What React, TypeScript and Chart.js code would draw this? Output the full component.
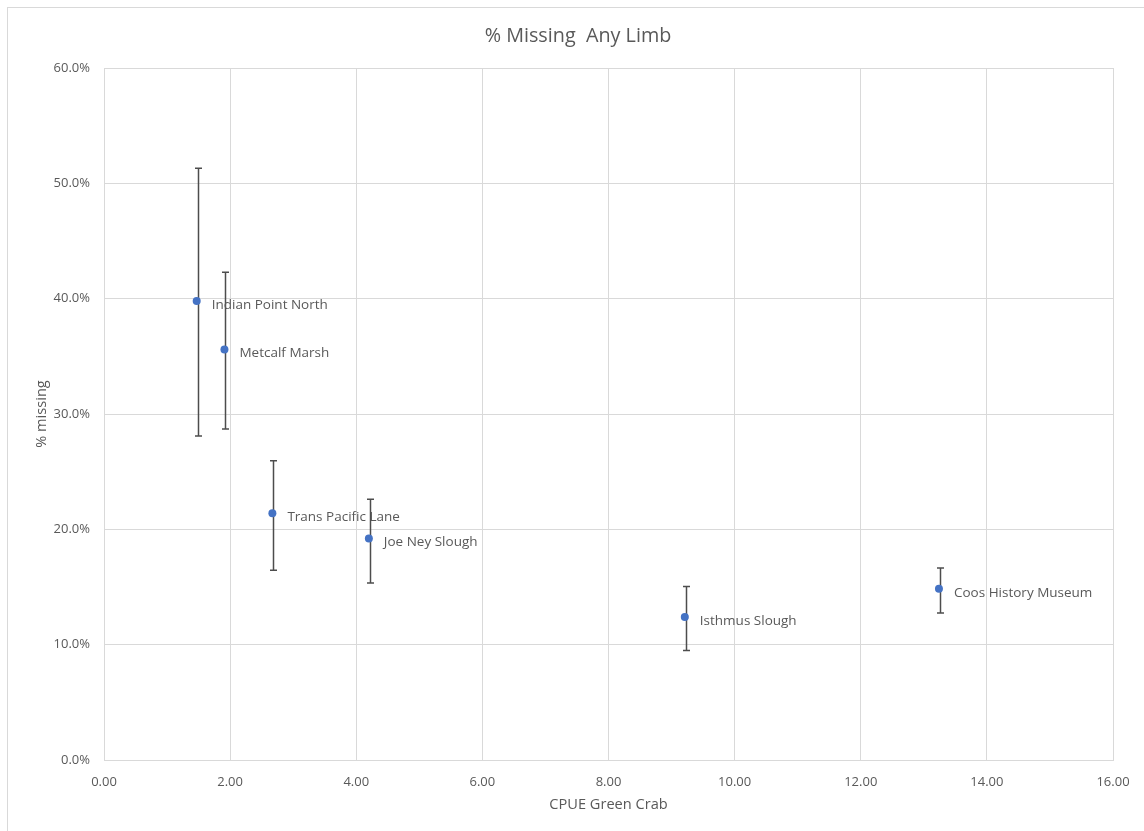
import React, { useEffect, useRef } from "react";
import { Chart, registerables } from "chart.js";

Chart.register(...registerables);

const sites = [
  "Indian Point North",
  "Metcalf Marsh",
  "Trans Pacific Lane",
  "Joe Ney Slough",
  "Isthmus Slough",
  "Coos History Museum",
];
const cpue = [1.47, 1.91, 2.67, 4.2, 9.21, 13.24];
const pctMissing = [39.8, 35.6, 21.4, 19.2, 12.4, 14.85];
const errUpper = [51.3, 42.3, 25.95, 22.6, 15.05, 16.65];
const errLower = [28.1, 28.7, 16.45, 15.35, 9.5, 12.75];

const chartTitle = "% Missing  Any Limb";
const xTitle = "CPUE Green Crab";
const yTitle = "% missing";

const FONT = "'Open Sans', Lato, sans-serif";
const TEXT = "#595959";

const W = 1137;
const H = 824;

const decorPlugin = {
  id: "decor",
  beforeDraw(chart: any) {
    const ctx = chart.ctx;
    ctx.save();
    ctx.fillStyle = "#ffffff";
    ctx.fillRect(0, 0, chart.width, chart.height);
    ctx.strokeStyle = "#d9d9d9";
    ctx.lineWidth = 1;
    ctx.strokeRect(0.5, 0.5, chart.width + 10, chart.height + 10);
    ctx.restore();
  },
  afterDraw(chart: any) {
    const ctx = chart.ctx;
    const area = chart.chartArea;
    ctx.save();
    ctx.fillStyle = TEXT;
    ctx.textAlign = "center";
    ctx.textBaseline = "middle";
    ctx.font = `19.8px ${FONT}`;
    ctx.fillText(chartTitle, 571, 29.5);
    ctx.font = `14.6px ${FONT}`;
    ctx.fillText(xTitle, (area.left + area.right) / 2, 798);
    ctx.translate(35, (area.top + area.bottom) / 2);
    ctx.rotate(-Math.PI / 2);
    ctx.fillText(yTitle, 0, 0);
    ctx.restore();
  },
};

const errorBarPlugin = {
  id: "errorBars",
  beforeDatasetsDraw(chart: any) {
    const ctx = chart.ctx;
    const xs = chart.scales.x;
    const ys = chart.scales.y;
    ctx.save();
    ctx.strokeStyle = "#4d4d4d";
    ctx.lineWidth = 1.5;
    for (let i = 0; i < cpue.length; i++) {
      const x = Math.round(xs.getPixelForValue(cpue[i])) + 1.5;
      const yTop = ys.getPixelForValue(errUpper[i]);
      const yBot = ys.getPixelForValue(errLower[i]);
      ctx.beginPath();
      ctx.moveTo(x, yTop);
      ctx.lineTo(x, yBot);
      ctx.moveTo(x - 3.5, yTop);
      ctx.lineTo(x + 3.5, yTop);
      ctx.moveTo(x - 3.5, yBot);
      ctx.lineTo(x + 3.5, yBot);
      ctx.stroke();
    }
    ctx.restore();
  },
  afterDatasetsDraw(chart: any) {
    const ctx = chart.ctx;
    const xs = chart.scales.x;
    const ys = chart.scales.y;
    ctx.save();
    ctx.fillStyle = TEXT;
    ctx.font = `13.5px ${FONT}`;
    ctx.textAlign = "left";
    ctx.textBaseline = "middle";
    for (let i = 0; i < cpue.length; i++) {
      const x = xs.getPixelForValue(cpue[i]);
      const y = ys.getPixelForValue(pctMissing[i]);
      ctx.fillText(sites[i], x + 15, y + 4);
    }
    ctx.restore();
  },
};

export default function App() {
  const ref = useRef<HTMLCanvasElement | null>(null);
  useEffect(() => {
    if (!ref.current) return;
    const chart = new Chart(ref.current, {
      type: "scatter",
      data: {
        datasets: [
          {
            label: "% missing",
            data: cpue.map((x, i) => ({ x, y: pctMissing[i] })),
            backgroundColor: "#4472C4",
            borderColor: "#4472C4",
            pointRadius: 4,
            pointBorderWidth: 0,
          },
        ],
      },
      options: {
        animation: false,
        responsive: false,
        devicePixelRatio: 1,
        layout: { padding: { left: 0, top: 61, right: 31, bottom: 0 } },
        plugins: {
          legend: { display: false },
          title: { display: false },
          tooltip: { enabled: false },
        },
        scales: {
          x: {
            type: "linear",
            min: 0,
            max: 16,
            afterFit: (s: any) => {
              s.height = 71;
            },
            ticks: {
              stepSize: 2,
              padding: 14,
              color: TEXT,
              font: { family: FONT, size: 13 },
              callback: (v: any) => Number(v).toFixed(2),
            },
            grid: { color: "#d9d9d9", drawTicks: false },
            border: { display: true, color: "#d9d9d9" },
          },
          y: {
            type: "linear",
            min: 0,
            max: 60,
            afterFit: (s: any) => {
              s.width = 97;
            },
            ticks: {
              stepSize: 10,
              padding: 14,
              color: TEXT,
              font: { family: FONT, size: 13 },
              callback: (v: any) => Number(v).toFixed(1) + "%",
            },
            grid: { color: "#d9d9d9", drawTicks: false },
            border: { display: true, color: "#d9d9d9" },
          },
        },
      },
      plugins: [decorPlugin, errorBarPlugin],
    });
    return () => chart.destroy();
  }, []);
  return (
    <div style={{ position: "fixed", left: 7, top: 7, width: W, height: H }}>
      <canvas ref={ref} width={W} height={H} style={{ width: W, height: H, display: "block" }} />
    </div>
  );
}
